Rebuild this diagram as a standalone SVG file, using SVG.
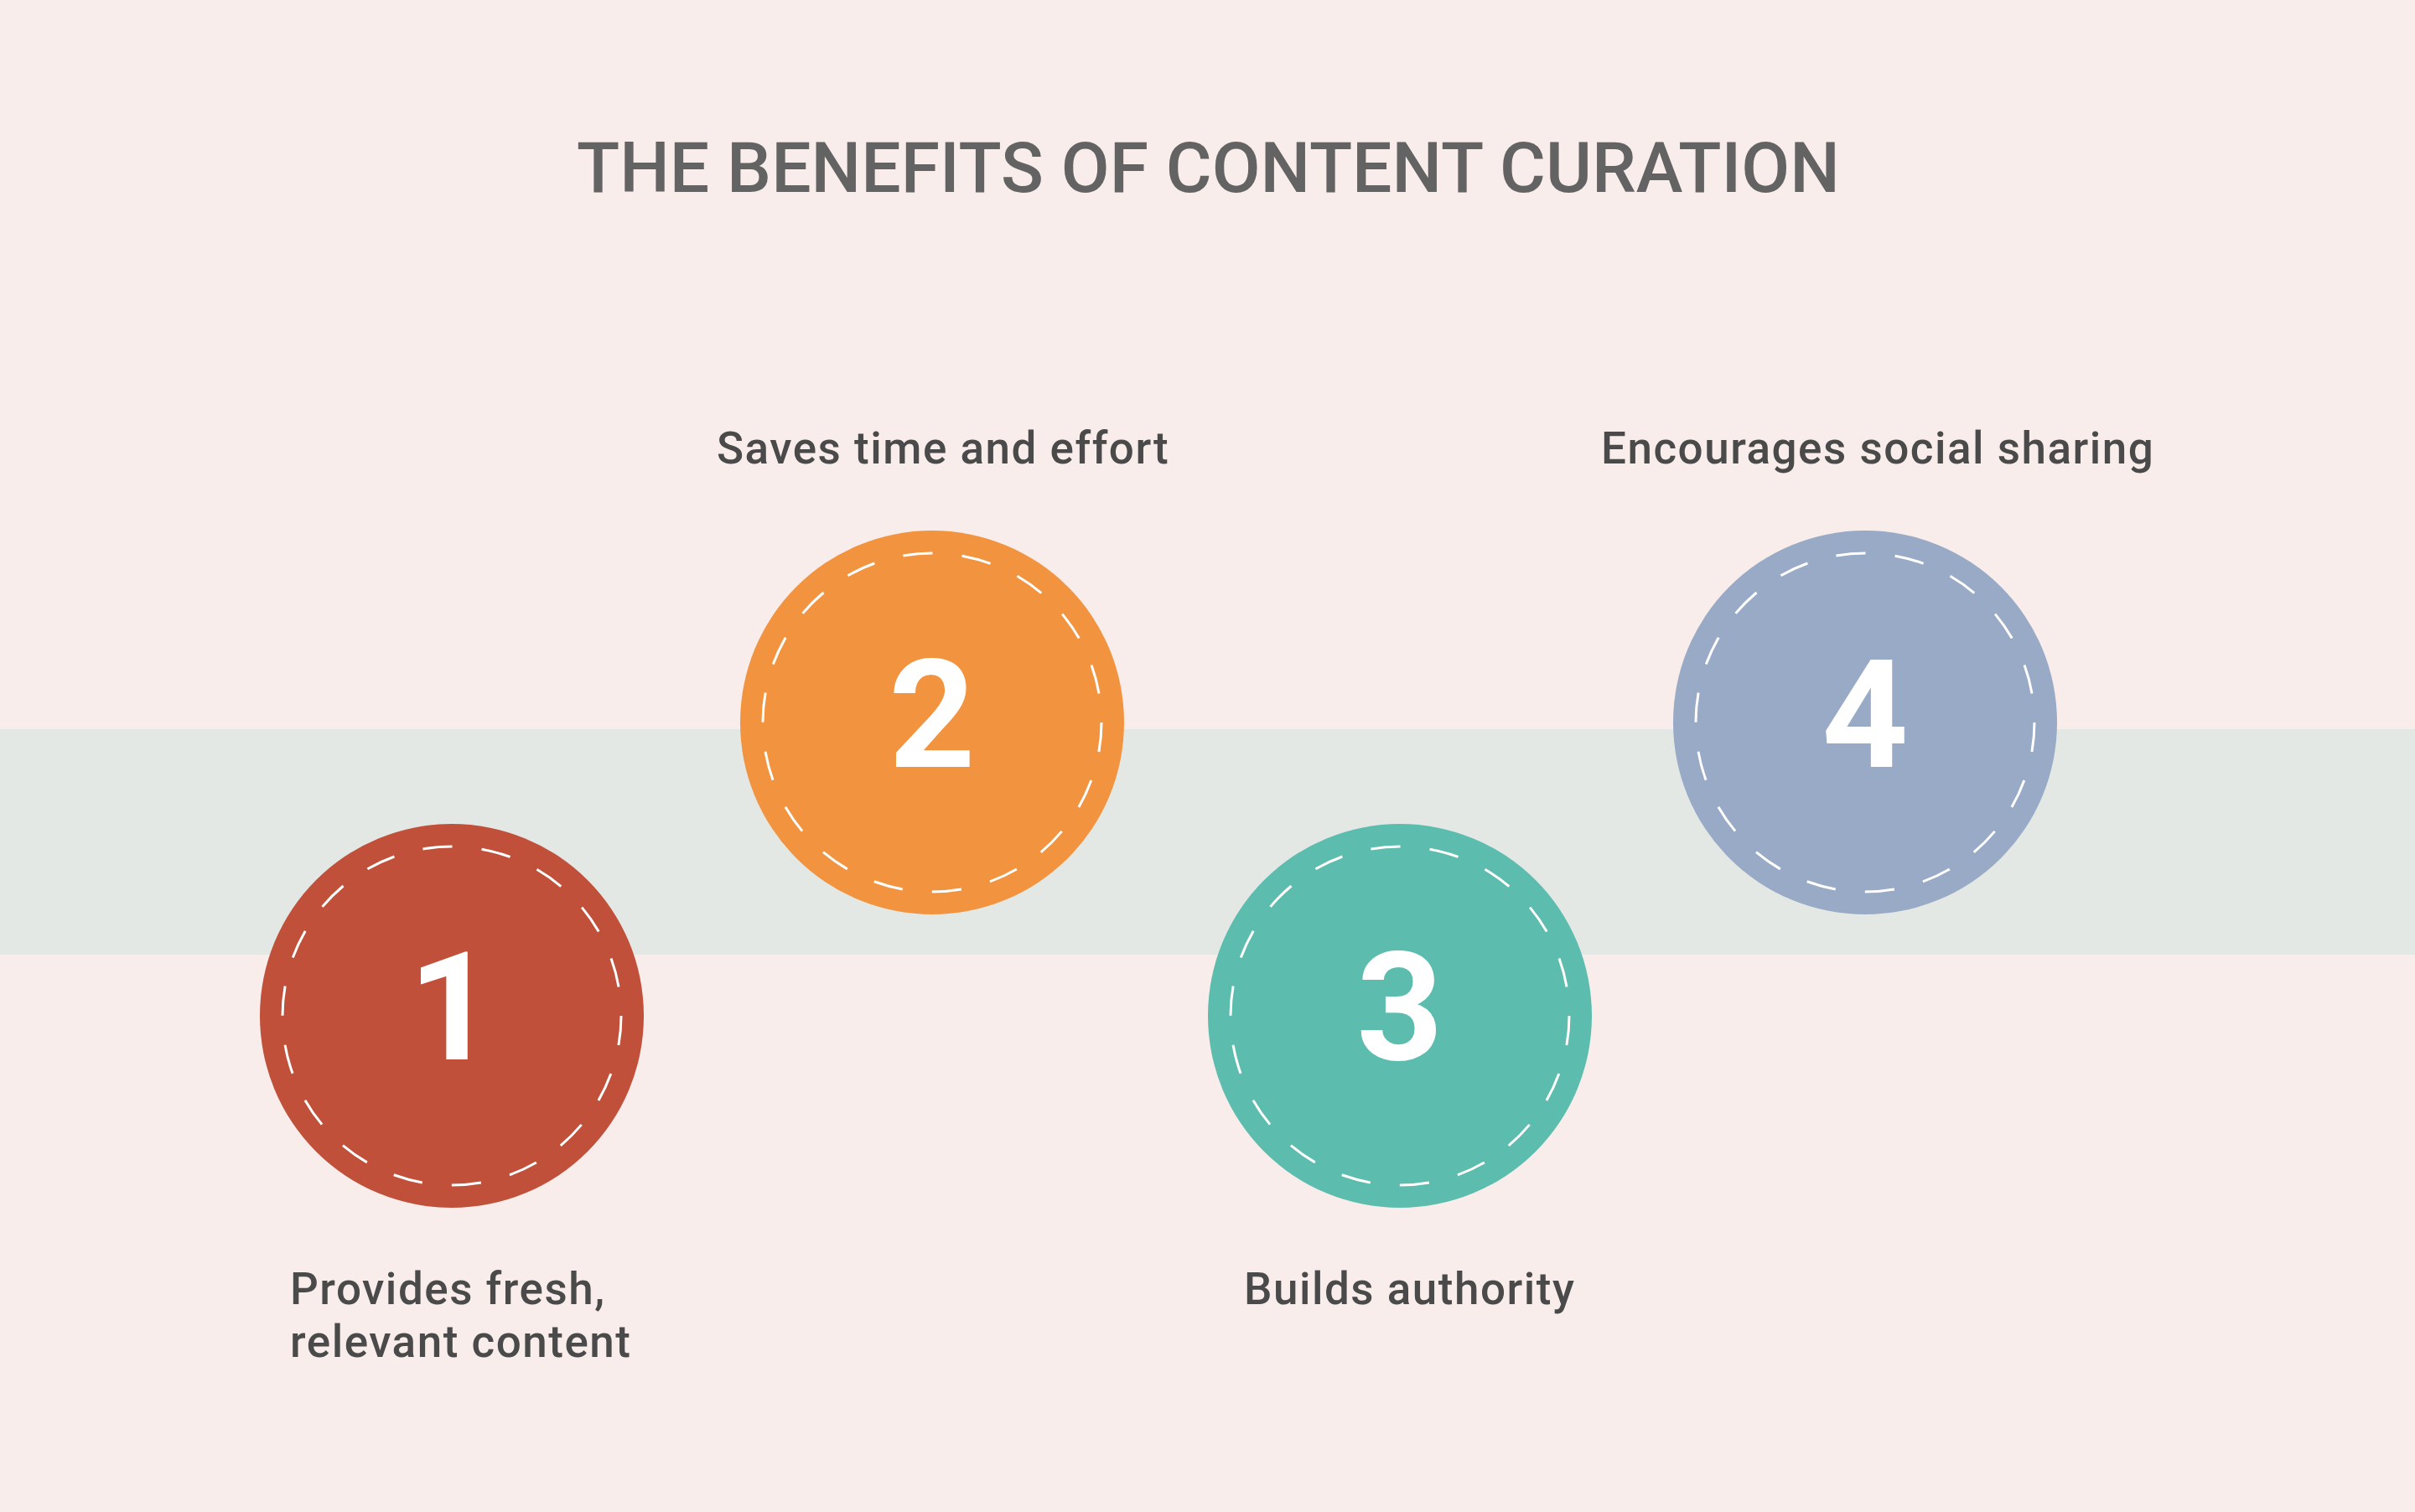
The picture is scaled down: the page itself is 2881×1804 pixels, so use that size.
<svg xmlns="http://www.w3.org/2000/svg" width="2881" height="1804" viewBox="0 0 2881 1804">
  <style>
    .label { font-family: Roboto, "Liberation Sans", sans-serif; font-weight: 500; font-size: 53px; letter-spacing: 1.5px; fill: #4A4A4A; }
    .title { font-family: Roboto, "Liberation Sans", sans-serif; font-weight: 500; font-size: 84px; fill: #636363; }
    .num { font-family: Roboto, "Liberation Sans", sans-serif; font-weight: 700; font-size: 180px; fill: #FFFFFF; text-anchor: middle; }
    .ring { fill: none; stroke: #FFFFFF; stroke-width: 3; stroke-dasharray: 35.26 35.26; }
  </style>
  <rect x="0" y="0" width="2881" height="1804" fill="#F8EDEB"/>
  <rect x="0" y="870" width="2881" height="269" fill="#E3E8E4"/>
  <text class="title" x="688" y="229">THE BENEFITS OF CONTENT CURATION</text>

  <g id="node1">
    <circle cx="539" cy="1212" r="229" fill="#C0503A"/>
    <circle class="ring" cx="539" cy="1212" r="202"/>
    <text class="num" x="539" y="1264">1</text>
    <text class="label" x="346" y="1556">Provides fresh,</text>
    <text class="label" x="346" y="1619">relevant content</text>
  </g>
  <g id="node2">
    <circle cx="1112" cy="862" r="229" fill="#F2943F"/>
    <circle class="ring" cx="1112" cy="862" r="202"/>
    <text class="num" x="1112" y="915">2</text>
    <text class="label" x="855" y="553">Saves time and effort</text>
  </g>
  <g id="node3">
    <circle cx="1670" cy="1212" r="229" fill="#5CBDAE"/>
    <circle class="ring" cx="1670" cy="1212" r="202"/>
    <text class="num" x="1670" y="1264">3</text>
    <text class="label" x="1484" y="1556">Builds authority</text>
  </g>
  <g id="node4">
    <circle cx="2225" cy="862" r="229" fill="#98AAC6"/>
    <circle class="ring" cx="2225" cy="862" r="202"/>
    <text class="num" x="2225" y="915">4</text>
    <text class="label" x="1910" y="553">Encourages social sharing</text>
  </g>
  <g id="connectors"></g>
</svg>
